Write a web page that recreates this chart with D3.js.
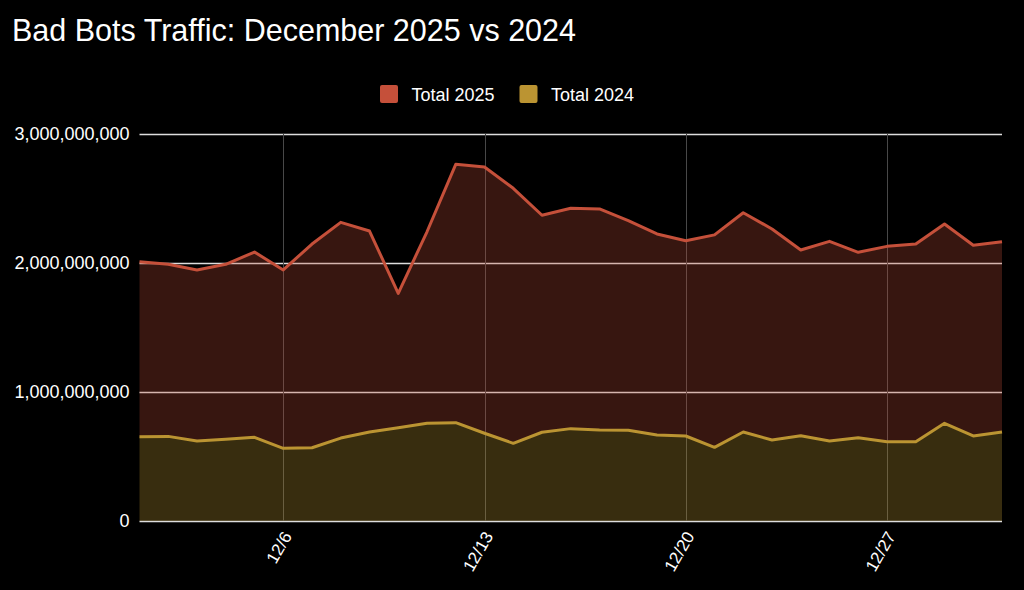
<!DOCTYPE html>
<html>
<head>
<meta charset="utf-8">
<script src="https://cdn.jsdelivr.net/npm/d3@7"></script>
<style>
  html, body { margin: 0; padding: 0; background: #000; }
  svg { display: block; }
  text { font-family: "Liberation Sans", Arial, sans-serif; fill: #fff; }
</style>
</head>
<body>
<svg id="chart" width="1024" height="590"></svg>
<script>
const days = d3.range(1, 32);
const total2025 = [2.010, 1.990, 1.946, 1.990, 2.085, 1.946, 2.147, 2.315, 2.248, 1.765,
  2.242, 2.765, 2.744, 2.579, 2.370, 2.424, 2.419, 2.328, 2.225, 2.173,
  2.218, 2.390, 2.264, 2.101, 2.168, 2.083, 2.129, 2.147, 2.302, 2.137, 2.165].map(v => v * 1e9);
const total2024 = [0.654, 0.656, 0.620, 0.633, 0.649, 0.563, 0.568, 0.643, 0.690, 0.723,
  0.757, 0.762, 0.680, 0.602, 0.688, 0.716, 0.705, 0.703, 0.667, 0.659,
  0.571, 0.690, 0.628, 0.661, 0.620, 0.646, 0.615, 0.615, 0.757, 0.659, 0.690].map(v => v * 1e9);
const xTicks = [6, 13, 20, 27];
const yTicks = [0, 1e9, 2e9, 3e9];
const seriesNames = ["Total 2025", "Total 2024"];
const seriesColors = ["#c5503a", "#bb9432"];

const svg = d3.select("#chart");
const mLeft = 139.5, mRight = 1002, mTop = 134, mBottom = 521;

const x = d3.scaleLinear().domain([1, 31]).range([mLeft, mRight]);
const y = d3.scaleLinear().domain([0, 3e9]).range([mBottom, mTop]);
const snap = v => Math.round(v) + 0.5;

// title
svg.append("text").attr("x", 12).attr("y", 41)
  .style("font-size", "30.5px").text("Bad Bots Traffic: December 2025 vs 2024");

// legend
const legendX = [380, 519.5];
seriesNames.forEach((n, i) => {
  svg.append("rect").attr("x", legendX[i]).attr("y", 85).attr("width", 18).attr("height", 18)
    .attr("rx", 2).attr("fill", seriesColors[i]);
  svg.append("text").attr("x", legendX[i] + 31.5).attr("y", 100.5)
    .style("font-size", "18px").text(n);
});

// gridlines
const grid = svg.append("g");
grid.selectAll("line.h").data(yTicks).enter().append("line")
  .attr("x1", mLeft).attr("x2", mRight)
  .attr("y1", d => snap(y(d))).attr("y2", d => snap(y(d)))
  .attr("stroke", "#dddddd").attr("stroke-width", 1.5);
grid.selectAll("line.v").data(xTicks).enter().append("line")
  .attr("x1", d => snap(x(d))).attr("x2", d => snap(x(d)))
  .attr("y1", mTop).attr("y2", mBottom)
  .attr("stroke", "#484848").attr("stroke-width", 1);

// areas
const areaRed = d3.area().x((d, i) => x(days[i]))
  .y0((d, i) => y(total2024[i])).y1(d => y(d));
const areaYel = d3.area().x((d, i) => x(days[i]))
  .y0(y(0)).y1(d => y(d));
svg.append("path").datum(total2025).attr("d", areaRed)
  .attr("fill", seriesColors[0]).attr("fill-opacity", 0.28);
svg.append("path").datum(total2024).attr("d", areaYel)
  .attr("fill", seriesColors[1]).attr("fill-opacity", 0.3);

// lines
const line = d3.line().x((d, i) => x(days[i])).y(d => y(d));
svg.append("path").datum(total2025).attr("d", line)
  .attr("fill", "none").attr("stroke", seriesColors[0]).attr("stroke-width", 3)
  .attr("stroke-linejoin", "round");
svg.append("path").datum(total2024).attr("d", line)
  .attr("fill", "none").attr("stroke", seriesColors[1]).attr("stroke-width", 3)
  .attr("stroke-linejoin", "round");

// y axis labels
const fmt = d3.format(",");
svg.selectAll("text.ylab").data(yTicks).enter().append("text")
  .attr("class", "ylab")
  .attr("x", 129.5).attr("y", d => y(d)).attr("dy", "0.35em")
  .attr("text-anchor", "end").style("font-size", "18px")
  .text(d => fmt(d));

// x axis labels
svg.selectAll("text.xlab").data(xTicks).enter().append("text")
  .attr("class", "xlab")
  .attr("transform", d => `translate(${x(d) + 4},${533}) rotate(-60)`)
  .attr("text-anchor", "end").attr("dy", "0.35em").style("font-size", "17px")
  .text(d => "12/" + d);
</script>
</body>
</html>
